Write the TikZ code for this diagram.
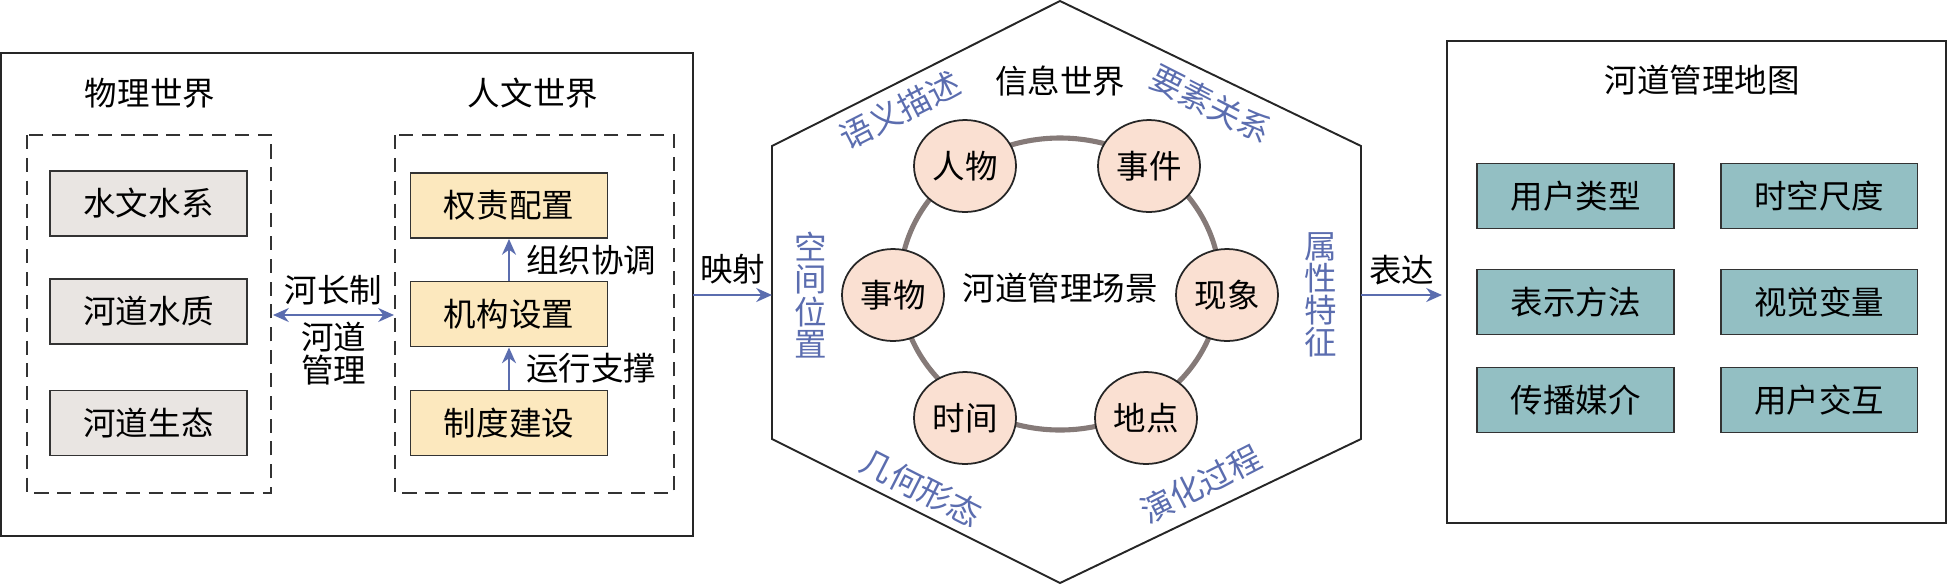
\documentclass[tikz,border=0pt]{standalone}
\usepackage{fontspec}
\setmainfont{Noto Sans CJK SC}
\usetikzlibrary{arrows.meta,positioning,shapes.geometric}
\definecolor{grayfill}{HTML}{E9E5E2}
\definecolor{yellowfill}{HTML}{FCE8BE}
\definecolor{tealfill}{HTML}{93BFC3}
\definecolor{peachfill}{HTML}{FAE0D2}
\definecolor{ringgray}{HTML}{857A78}
\definecolor{linkblue}{HTML}{5B6DAF}
\tikzset{
	every node/.style={font=\fontsize{18.5}{21}\selectfont},
	frame/.style={draw=black!85,line width=1.1pt},
	group/.style={draw=black!80,dashed,dash pattern=on 8pt off 5pt,line width=0.9pt},
	itembox/.style={draw=black!80,line width=1.1pt,minimum width=3.94cm,minimum height=1.3cm,inner sep=0pt},
	topic/.style={ellipse,draw=black!85,line width=1pt,fill=peachfill,minimum width=2.04cm,minimum height=1.84cm,inner sep=0pt},
	aspect/.style={text=linkblue},
	upright/.style={aspect,align=center,font=\fontsize{18.5}{18.3}\selectfont},
	link/.style={draw=linkblue,line width=1.1pt,-{Stealth[length=9pt,width=8pt]}},
}
\begin{document}
\begin{tikzpicture}[x=0.02cm,y=-0.02cm]
	\useasboundingbox (0,0) rectangle (1947,586);
	% Rahmen
		\draw[frame] (1,53) rectangle (693,536);
		\draw[group] (27,135) rectangle (271,493);
		\draw[group] (395,135) rectangle (674,493);
		\draw[frame] (1447,41) rectangle (1946,523);
		\draw[frame] (1060,1) coordinate (h1) -- (1361,146) coordinate (h2) -- (1361,439) coordinate (h3)
			-- (1060,583) coordinate (h4) -- (772,439) coordinate (h5) -- (772,146) coordinate (h6) -- cycle;
		\draw[ringgray,line width=2.9pt] (1060,284) ellipse [x radius=160, y radius=146];
	% Titel
		\node (phys) at (150,93) {物理世界};
		\node (hum) at (533,93) {人文世界};
		\node (info) at (1060,81) {信息世界};
		\node (map) at (1702,80) {河道管理地图};
	% Physische Welt
		\node (p1) at (148.5,203.5) [itembox,fill=grayfill] {水文水系};
		\node (p2) at (148.5,311.5) [itembox,fill=grayfill] {河道水质};
		\node (p3) at (148.5,423) [itembox,fill=grayfill] {河道生态};
	% Humane Welt
		\node (h1b) at (509,205.5) [itembox,fill=yellowfill] {权责配置};
		\node (h2b) at (509,314) [itembox,fill=yellowfill] {机构设置};
		\node (h3b) at (509,423) [itembox,fill=yellowfill] {制度建设};
	% Informationswelt
		\node (scene) at (1060,288) {河道管理场景};
		\node (t1) at (965,166) [topic] {人物};
		\node (t2) at (1149,166) [topic] {事件};
		\node (t3) at (893,295) [topic] {事物};
		\node (t4) at (1227,295) [topic] {现象};
		\node (t5) at (965,418) [topic] {时间};
		\node (t6) at (1146,418) [topic] {地点};
		\node (a1) at (900,110) [aspect,rotate=27] {语义描述};
		\node (a2) at (1211,104) [aspect,rotate=-27] {要素关系};
		\node (a3) at (811,295) [upright] {空\\间\\位\\置};
		\node (a4) at (1321,295) [upright] {属\\性\\特\\征};
		\node (a5) at (921,488) [aspect,rotate=-27] {几何形态};
		\node (a6) at (1201,484) [aspect,rotate=27] {演化过程};
	% Karte
		\node (m1) at (1575.5,196) [itembox,fill=tealfill] {用户类型};
		\node (m2) at (1819,196) [itembox,fill=tealfill] {时空尺度};
		\node (m3) at (1575.5,302) [itembox,fill=tealfill] {表示方法};
		\node (m4) at (1819,302) [itembox,fill=tealfill] {视觉变量};
		\node (m5) at (1575.5,400) [itembox,fill=tealfill] {传播媒介};
		\node (m6) at (1819,400) [itembox,fill=tealfill] {用户交互};
	% Kanten
		\coordinate (lb) at (693,295);
		\coordinate (hl) at (772,295);
		\coordinate (hr) at (1361,295);
		\coordinate (rb) at (1442,295);
		\coordinate (pl) at (273,315);
		\coordinate (hm) at (394,315);
		\draw[link,{Stealth[length=9pt,width=8pt]}-{Stealth[length=9pt,width=8pt]}] (pl) -- node[above,black,yshift=2pt]{河长制} node[below,black,align=center,font=\fontsize{18.5}{19}\selectfont]{河道\\管理} (hm);
		\draw[link] (h2b) -- node[right,black,xshift=6pt]{组织协调} (h1b);
		\draw[link] (h3b) -- node[right,black,xshift=6pt]{运行支撑} (h2b);
		\draw[link] (lb) -- node[above,black,yshift=2pt]{映射} (hl);
		\draw[link] (hr) -- node[above,black,yshift=2pt]{表达} (rb);
	\end{tikzpicture}
\end{document}
